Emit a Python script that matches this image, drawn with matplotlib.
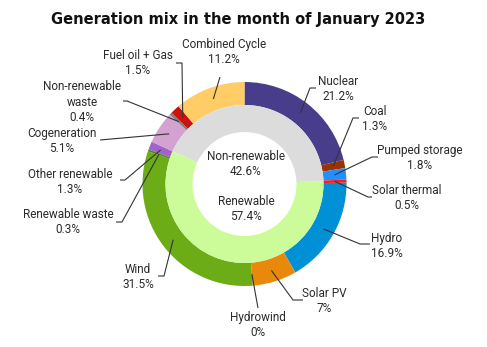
import numpy as np
import matplotlib
matplotlib.use("Agg")
import matplotlib.pyplot as plt

# --- Data ---
sources = ["Nuclear", "Coal", "Pumped storage", "Solar thermal", "Hydro",
           "Solar PV", "Hydrowind", "Wind", "Renewable waste",
           "Other renewable", "Cogeneration", "Non-renewable\nwaste",
           "Fuel oil + Gas", "Combined Cycle"]
shares = [21.2, 1.3, 1.8, 0.5, 16.9, 7.0, 0.0, 31.5, 0.3, 1.3, 5.1, 0.4, 1.5, 11.2]
share_labels = ["21.2%", "1.3%", "1.8%", "0.5%", "16.9%", "7%", "0%", "31.5%",
                "0.3%", "1.3%", "5.1%", "0.4%", "1.5%", "11.2%"]
groups = ["Non-renewable", "Renewable"]
group_shares = [42.6, 57.4]
group_labels = ["42.6%", "57.4%"]

colors = ["#483D8B", "#993300", "#1E90FF", "#FF1A1A", "#0090D6", "#E8890C",
          "#4F8A10", "#6CAC17", "#4F8A10", "#A063CC", "#D3A2D0", "#808080",
          "#CC1111", "#FFCC66"]
group_colors = ["#DCDCDC", "#CCFC9A"]

# label layout (pixel coords, y from top): text centre, elbow, stub end
layout = {
    "Nuclear":             ((338, 89), (310, 88), (316, 88)),
    "Coal":                ((375, 119), (353, 118), (359, 118)),
    "Pumped storage":      ((420, 158), (372, 157), (378, 157)),
    "Solar thermal":       ((407, 198), (368, 197), (372, 197)),
    "Hydro":               ((387, 246), (360, 244), (370, 244)),
    "Solar PV":            ((324, 301), (293, 300), (303, 300)),
    "Hydrowind":           ((258, 325), (258, 308), (258, 308)),
    "Wind":                ((138, 277), (164, 276), (158, 276)),
    "Renewable waste":     ((68, 222), (122, 222), (116, 222)),
    "Other renewable":     ((70, 182), (125, 180), (120, 180)),
    "Cogeneration":        ((62, 141), (100, 140), (100, 140)),
    "Non-renewable\nwaste": ((82, 102), (127, 101), (123, 101)),
    "Fuel oil + Gas":      ((138, 63), (182, 63), (176, 63)),
    "Combined Cycle":      ((224, 52), (220, 77), (220, 77)),
}

W, H = 487, 347
cx, cy = 244.5, H - 184
R = 102
ring = 23
inner_hole = 52

fig = plt.figure(figsize=(W / 100, H / 100), dpi=100)
ax = fig.add_axes([0, 0, 1, 1])
ax.set_xlim(0, W)
ax.set_ylim(0, H)
ax.axis("off")

plt.rcParams["font.family"] = ["Roboto", "DejaVu Sans"]
txt_color = "#2b2b2b"

# outer ring
ax.pie(shares, radius=R, center=(cx, cy), colors=colors, startangle=90,
       counterclock=False, wedgeprops=dict(width=ring, linewidth=0),
       frame=True)

# inner ring starts where the Cogeneration wedge starts
offset = sum(shares[10:]) / 100 * 360
ax.pie(group_shares, radius=R - ring, center=(cx, cy), colors=group_colors,
       startangle=90 + offset, counterclock=False,
       wedgeprops=dict(width=R - ring - inner_hole, linewidth=0), frame=True)
ax.set_xlim(0, W)
ax.set_ylim(0, H)
ax.set_aspect("equal")
ax.axis("off")

# connectors + labels
cum = np.cumsum([0] + shares[:-1])
for name, val, start, pct in zip(sources, shares, cum, share_labels):
    mid = np.deg2rad((start + val / 2) / 100 * 360)
    r_mid = R - ring / 2
    ax_x = cx + r_mid * np.sin(mid)
    ax_y = cy + r_mid * np.cos(mid)
    (tx, ty), (ex, ey), (sx, sy) = layout[name]
    ax.plot([ax_x, ex, sx], [ax_y, H - ey, H - sy], color="#333333", lw=0.8,
            solid_capstyle="butt")
    ax.text(tx, H - ty, f"{name}\n{pct}", ha="center", va="center",
            fontsize=8.5, color=txt_color, linespacing=1.25)

# centre labels
ax.text(cx + 1.5, H - 164, f"{groups[0]}\n{group_labels[0]}", ha="center",
        va="center", fontsize=8.5, color=txt_color, linespacing=1.25)
ax.text(cx + 1.5, H - 209, f"{groups[1]}\n{group_labels[1]}", ha="center",
        va="center", fontsize=8.5, color=txt_color, linespacing=1.25)

ax.text(238, H - 19, "Generation mix in the month of January 2023",
        ha="center", va="center", fontsize=10.5, fontweight="bold",
        color="#111111", family=["DejaVu Sans"])

fig.savefig("out.png", dpi=100)
